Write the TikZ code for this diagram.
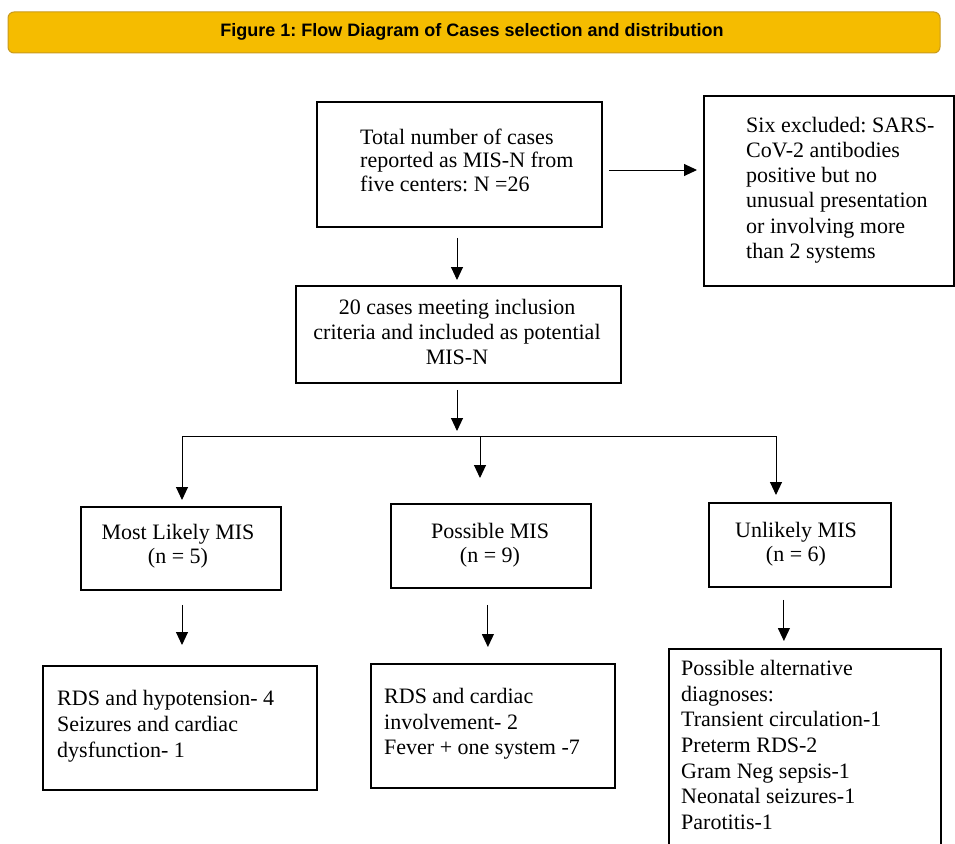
\documentclass[tikz,border=0pt]{standalone}
\usepackage{fontspec}
\setmainfont{Liberation Serif}
\newfontfamily\titlefont{Liberation Sans}
\usetikzlibrary{arrows.meta}
\definecolor{gold}{HTML}{F5BC00}
\definecolor{goldedge}{HTML}{C99A1C}
\frenchspacing
\begin{document}
\begin{tikzpicture}[x=1pt,y=-1pt,
  frame/.style={draw=black,line width=1.8pt,inner sep=0pt,anchor=north west},
  txt/.style={inner sep=0pt,font=\fontsize{22}{25}\selectfont},
  ltxt/.style={txt,align=left,anchor=west},
  ctxt/.style={txt,align=center,anchor=center},
  arr/.style={line width=1pt,-{Triangle[length=13pt,width=12pt]}},
  conn/.style={line width=1pt},
  titlebar/.style={draw=goldedge,line width=1pt,fill=gold,rounded corners=6pt,
    minimum width=932pt,minimum height=41pt,inner sep=0pt}
]
\useasboundingbox (0,0) rectangle (955,843);
\clip (0,0) rectangle (955,843);

% title bar
\node[titlebar] (title) at (474,32.5) {};
\node[inner sep=0pt,font=\titlefont\bfseries\fontsize{18}{20}\selectfont] (titletext) at (472,32) {Figure 1: Flow Diagram of Cases selection and distribution};

% frames
\node[frame,minimum width=285pt,minimum height=125pt] (b1) at (316,101) {};
\node[frame,minimum width=250pt,minimum height=190pt] (excl) at (703,95) {};
\node[frame,minimum width=325pt,minimum height=97pt] (b2) at (295,285) {};
\node[frame,minimum width=200pt,minimum height=83pt] (ml) at (80,506) {};
\node[frame,minimum width=200pt,minimum height=84pt] (pm) at (390,503) {};
\node[frame,minimum width=182pt,minimum height=84pt] (um) at (708,502) {};
\node[frame,minimum width=274pt,minimum height=124pt] (bl) at (42,665) {};
\node[frame,minimum width=244pt,minimum height=124pt] (bm) at (370,663) {};
\node[frame,minimum width=272pt,minimum height=210pt] (br) at (668,648) {};

% texts
\node[ltxt,font=\fontsize{22}{23.5}\selectfont] (b1t) at (360,160) {Total number of cases\\reported as MIS-N from\\five centers: N =26};
\node[ltxt,font=\fontsize{22}{25.2}\selectfont] (exclt) at (746,190) {Six excluded: SARS-\\CoV-2 antibodies\\positive but no\\unusual presentation\\or involving more\\than 2 systems};
\node[ctxt] (b2t) at (457,332) {20 cases meeting inclusion\\criteria and included as potential\\MIS-N};
\node[ctxt,font=\fontsize{22}{24}\selectfont] (mlt) at (178,546) {Most Likely MIS\\(n = 5)};
\node[ctxt,font=\fontsize{22}{24}\selectfont] (pmt) at (490,545) {Possible MIS\\(n = 9)};
\node[ctxt,font=\fontsize{22}{24}\selectfont] (umt) at (796,544) {Unlikely MIS\\(n = 6)};
\node[ltxt,font=\fontsize{22}{26}\selectfont] (blt) at (57,726) {RDS and hypotension- 4\\Seizures and cardiac\\dysfunction- 1};
\node[ltxt,font=\fontsize{22}{25.5}\selectfont] (bmt) at (384,724) {RDS and cardiac\\involvement- 2\\Fever + one system -7};
\node[ltxt,font=\fontsize{22}{25.7}\selectfont] (brt) at (681,745) {Possible alternative\\diagnoses:\\Transient circulation-1\\Preterm RDS-2\\Gram Neg sepsis-1\\Neonatal seizures-1\\Parotitis-1};

% connectors
\coordinate (hub) at (457,436);
\coordinate (hl) at (182,436);
\coordinate (hm) at (480,436);
\coordinate (hr) at (776,436);

\draw[arr,shorten <=6pt,shorten >=6pt] (b1.east |- 0,170) -- (excl.west |- 0,170);
\draw[arr,shorten <=10pt,shorten >=5pt] (hub |- b1.south) -- (hub |- b2.north);
\draw[arr,shorten <=6pt,shorten >=5pt] (hub |- b2.south) -- (hub);
\draw[conn] (hl) -- (hr);
\draw[arr,shorten >=6pt] (hl) -- (hl |- ml.north);
\draw[arr,shorten >=25pt] (hm) -- (hm |- pm.north);
\draw[arr,shorten >=7pt] (hr) -- (hr |- um.north);
\draw[arr,shorten <=14pt,shorten >=20pt] (hl |- ml.south) -- (hl |- bl.north);
\draw[arr,shorten <=16pt,shorten >=16pt] ([xshift=-3pt]pm.south) -- ([xshift=-3pt]pm.south |- bm.north);
\draw[arr,shorten <=12pt,shorten >=7pt] ([xshift=-16pt]um.south) -- ([xshift=-16pt]um.south |- br.north);
\end{tikzpicture}
\end{document}
